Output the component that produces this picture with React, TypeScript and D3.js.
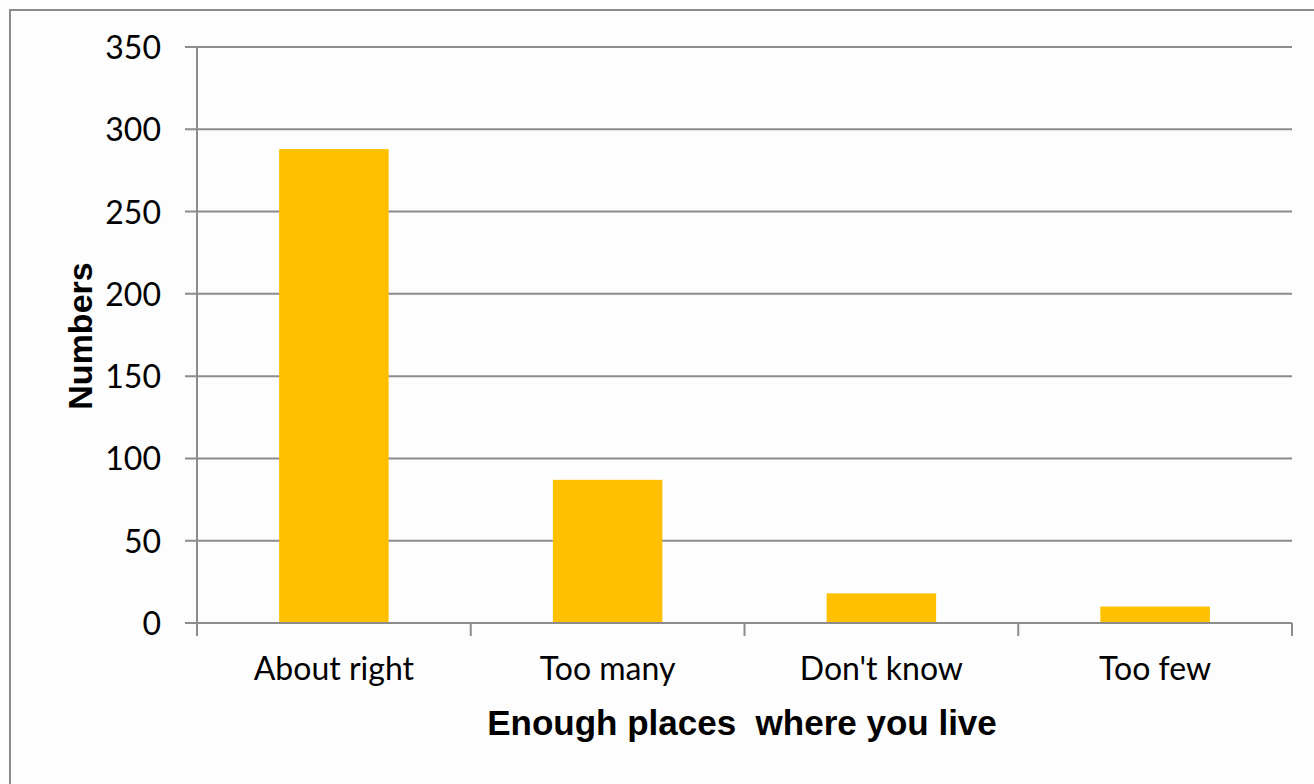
import React from "react";
import * as d3 from "d3";

const categories = ["About right", "Too many", "Don't know", "Too few"];
const values = [288, 87, 18, 10];
const yTicks = [0, 50, 100, 150, 200, 250, 300, 350];

export default function App() {
  const W = 1314, H = 784;
  const left = 197, right = 1292, top = 47, bottom = 623;
  const x = d3.scaleBand<string>().domain(categories).range([left, right]).paddingInner(0.6).paddingOuter(0.3);
  const xb = d3.scaleBand<string>().domain(categories).range([left, right]);
  const y = d3.scaleLinear().domain([0, 350]).range([bottom, top]);
  const tickFont = "Lato, 'Open Sans', sans-serif";
  return (
    <svg width={W} height={H} style={{ position: "absolute", left: 0, top: 0, background: "#fdfdfd" }}>
      <rect x={10} y={10} width={W + 20} height={H + 20} fill="#fdfdfd" stroke="#8c8c8c" strokeWidth={2} />
      {yTicks.map((t) => (
        <g key={t}>
          <line x1={left - 12} x2={right} y1={y(t)} y2={y(t)} stroke="#8c8c8c" strokeWidth={2} />
          <text x={161} y={y(t) + 12} textAnchor="end" fontSize={32} fontFamily={tickFont} fill="#000">{t}</text>
        </g>
      ))}
      {categories.map((c, i) => (
        <rect key={c} x={x(c)} y={y(values[i])} width={x.bandwidth()} height={bottom - y(values[i])} fill="#FFC000" />
      ))}
      <line x1={left} x2={left} y1={top} y2={bottom + 13} stroke="#8c8c8c" strokeWidth={2} />
      {categories.map((c) => (
        <line key={c} x1={(xb(c) as number) + xb.bandwidth()} x2={(xb(c) as number) + xb.bandwidth()} y1={bottom} y2={bottom + 13} stroke="#8c8c8c" strokeWidth={2} />
      ))}
      <line x1={left} x2={right} y1={bottom} y2={bottom} stroke="#8c8c8c" strokeWidth={2} />
      {categories.map((c) => (
        <text key={c} x={(xb(c) as number) + xb.bandwidth() / 2} y={680} textAnchor="middle" fontSize={32} fontFamily={tickFont} fill="#000">{c}</text>
      ))}
      <text x={742} y={735} textAnchor="middle" fontSize={35} fontWeight="bold" fontFamily="'Liberation Sans', Arial, sans-serif" fill="#000" style={{ whiteSpace: "pre" }}>{"Enough places  where you live"}</text>
      <text transform="translate(92,336) rotate(-90)" textAnchor="middle" fontSize={34} fontWeight="bold" fontFamily="'Liberation Sans', Arial, sans-serif" fill="#000">Numbers</text>
    </svg>
  );
}
